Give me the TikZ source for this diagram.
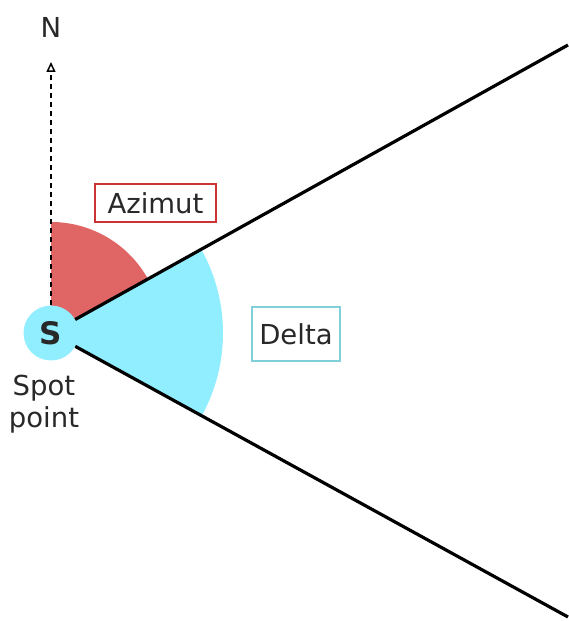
\documentclass[tikz,border=0pt]{standalone}
\usepackage{fontspec}
\setmainfont{DejaVu Sans}
\usetikzlibrary{arrows.meta}
\definecolor{azred}{RGB}{224,102,102}
\definecolor{azredline}{RGB}{204,51,51}
\definecolor{dcyan}{RGB}{144,238,254}
\definecolor{dcyanline}{RGB}{128,208,218}
\definecolor{txt}{RGB}{40,40,40}
\tikzset{
  lbl/.style={font=\fontsize{27.5}{32}\selectfont, text=txt},
  boxlbl/.style={lbl, draw, line width=2pt, inner sep=0pt},
  ray/.style={line width=3.2pt, black},
}
\begin{document}
\begin{tikzpicture}[x=1pt,y=1pt]
\useasboundingbox (0,0) rectangle (568,621);
% sectors
\coordinate (c) at (51,288);
\fill[azred] (c) -- ++(90:111) arc[start angle=90, end angle=29, radius=111] -- cycle;
\fill[dcyan] (c) -- ++(-29:172) arc[start angle=-29, end angle=29, radius=172] -- cycle;
% spot point
\node[circle, fill=dcyan, minimum size=55pt, inner sep=0pt, font=\fontsize{31}{34}\selectfont\bfseries, text=txt] (S) at (c) {S};
\coordinate (ue) at (568,576);
\coordinate (le) at (568,4);
\draw[ray] (S) -- (ue);
\draw[ray] (S) -- (le);
% north arrow
\coordinate (ntip) at (51,559);
\draw[line width=1.5pt, dash pattern=on 5pt off 4pt, -{Triangle[open, length=10pt, width=9pt, line width=1.5pt]}] (S.north) -- (ntip);
\node[lbl] (N) at (51,594) {N};
% labels
\node[lbl, align=center] (sp) at (44,217) {Spot\\[0pt]point};
\node[boxlbl, draw=azredline, minimum width=121pt, minimum height=38pt] (az) at (155.5,418) {Azimut};
\node[boxlbl, draw=dcyanline, minimum width=88pt, minimum height=54pt] (de) at (296,286.5) {Delta};
\end{tikzpicture}
\end{document}
